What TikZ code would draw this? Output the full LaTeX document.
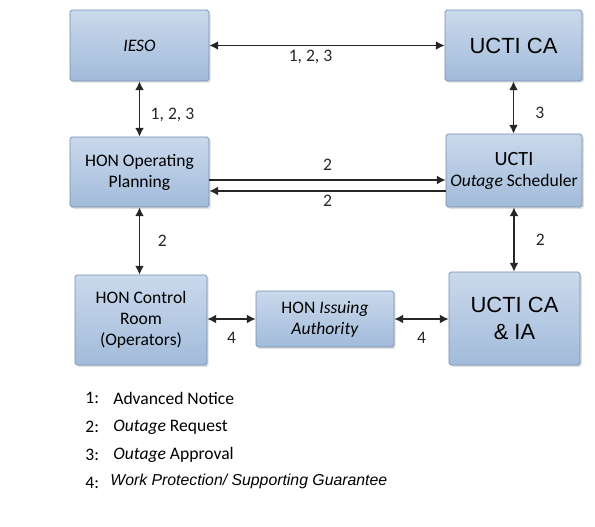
\documentclass[tikz,border=0pt]{standalone}
\usepackage{fontspec}
\setmainfont{Carlito}
\newfontfamily\arialfont{Liberation Sans}
\usetikzlibrary{arrows.meta,positioning,calc,shadows}
\definecolor{boxtop}{RGB}{202,217,236}
\definecolor{boxbot}{RGB}{162,187,218}
\definecolor{boxline}{RGB}{112,140,178}

\begin{document}
\begin{tikzpicture}[
    x=0.02cm, y=-0.02cm,
    box/.style={draw=boxline, top color=boxtop, bottom color=boxbot, rounded corners=1pt,
        align=center, font=\normalsize, inner sep=2pt,
        drop shadow={opacity=0.25, shadow xshift=1pt, shadow yshift=-1pt}},
    bigbox/.style={box, font=\arialfont\fontsize{12.5}{15}\selectfont},
    arr/.style={{Latex[length=5pt,width=5pt]}-{Latex[length=5pt,width=5pt]}, thick, black!85},
    onearr/.style={-{Latex[length=5pt,width=5pt]}, thick, black!85},
    lbl/.style={font=\normalsize, inner sep=2pt},
    legnum/.style={anchor=west, font=\normalsize, inner sep=0pt},
    legtext/.style={anchor=west, font=\normalsize, inner sep=0pt}
]
\useasboundingbox (0,0) rectangle (595,527);

% boxes
\node[box, minimum width=2.78cm, minimum height=1.42cm] (ieso) at (139.5,45.5) {\textit{IESO}};
\node[bigbox, minimum width=2.74cm, minimum height=1.42cm] (ucti) at (513.5,45.5) {UCTI CA};
\node[box, minimum width=2.78cm, minimum height=1.40cm] (hop) at (139.5,172) {HON Operating\\Planning};
\node[box, minimum width=2.72cm, minimum height=1.46cm] (sched) at (514,170.5)
    {{\fontsize{11.5}{13}\selectfont UCTI}\\\textit{Outage} Scheduler};
\node[box, minimum width=2.64cm, minimum height=1.80cm] (hcr) at (141,320) {HON Control\\Room\\(Operators)};
\node[box, minimum width=2.76cm, minimum height=1.12cm] (hia) at (325,319) {HON \textit{Issuing}\\\textit{Authority}};
\node[bigbox, minimum width=2.62cm, minimum height=1.86cm] (uctiia) at (514.5,318.5) {UCTI CA\\\& IA};

% connectors
\draw[arr] (ieso.east) -- node[lbl, pos=0.43, below] {1, 2, 3} (ieso.east -| ucti.west);
\draw[arr] (ieso.south) -- node[lbl, pos=0.6, right=4pt] {1, 2, 3} (ieso.south |- hop.north);
\draw[arr] (ucti.south) -- node[lbl, pos=0.6, right=10pt] {3} (ucti.south |- sched.north);
\draw[onearr] ([yshift=-0.16cm]hop.east) -- node[lbl, above=3pt] {2} ([yshift=-0.16cm]hop.east -| sched.west);
\draw[onearr] ([yshift=-0.38cm]hop.east -| sched.west) -- node[lbl, below] {2} ([yshift=-0.38cm]hop.east);
\draw[arr] (hop.south) -- node[lbl, pos=0.5, right=8pt] {2} (hop.south |- hcr.north);
\draw[arr] (sched.south) -- node[lbl, pos=0.5, right=10pt] {2} (sched.south |- uctiia.north);
\draw[arr] (hcr.east |- hia.west) -- node[lbl, below=5pt] {4} (hia.west);
\draw[arr] (hia.east) -- node[lbl, below=5pt] {4} (hia.east -| uctiia.west);

% legend
\node[legnum] (n1) at (85,398) {1:};
\node[legtext] (t1) at (113,398) {Advanced Notice};
\node[legnum] (n2) at (85,427) {2:};
\node[legtext] (t2) at (113,427) {\textit{Outage} Request};
\node[legnum] (n3) at (85,455) {3:};
\node[legtext] (t3) at (113,455) {\textit{Outage} Approval};
\node[legnum] (n4) at (85,483) {4:};
\node[legtext, font=\arialfont\itshape\fontsize{9}{11}\selectfont] (t4) at (110,481) {Work Protection/ Supporting Guarantee};

\end{tikzpicture}
\end{document}
